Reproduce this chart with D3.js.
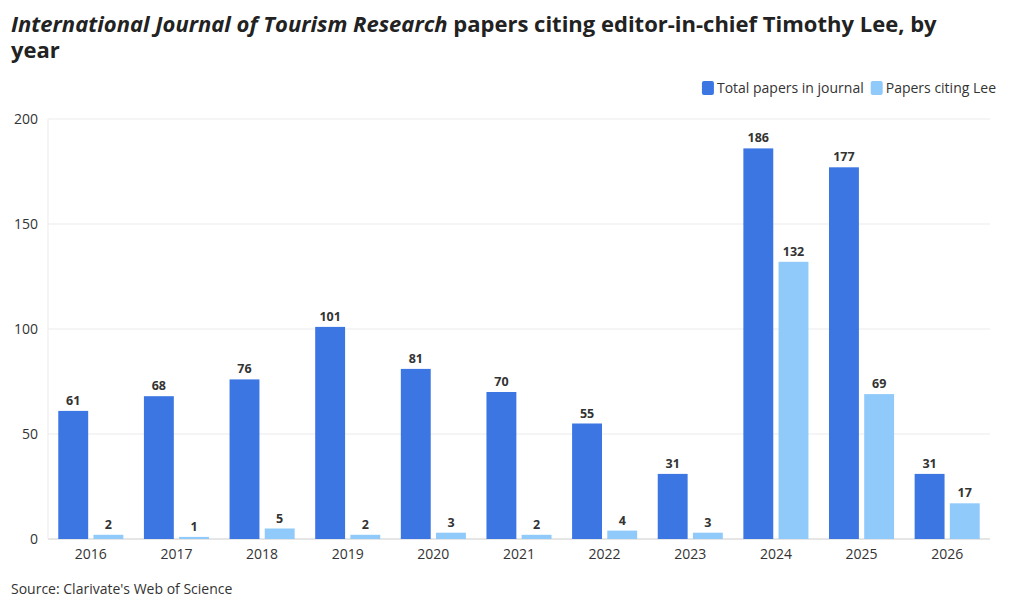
<!DOCTYPE html>
<html><head><meta charset="utf-8">
<script src="https://cdn.jsdelivr.net/npm/d3@7"></script>
<style>body{margin:0;background:#fff;font-family:"Open Sans","Noto Sans",sans-serif;}</style>
</head><body>
<svg width="1020" height="608"></svg>
<script>
const years = ['2016','2017','2018','2019','2020','2021','2022','2023','2024','2025','2026'];
const totalPapers = [61,68,76,101,81,70,55,31,186,177,31];
const citingLee = [2,1,5,2,3,2,4,3,132,69,17];
const seriesNames = ['Total papers in journal','Papers citing Lee'];
const colors = ['#3b76e3','#90cafb'];

const svg = d3.select('svg');
const m = {left:48, right:990, top:119, bottom:539};

let x = d3.scaleBand().domain(years).range([m.left, m.right]).paddingInner(0.24).paddingOuter(0.12);
let x1 = d3.scaleBand().domain([0,1]).range([0, x.bandwidth()]).paddingInner(0.15);
let y = d3.scaleLinear().domain([0,200]).range([m.bottom, m.top]);

// grid
svg.append('g').selectAll('line').data(y.ticks(4)).join('line')
  .attr('x1', m.left).attr('x2', m.right)
  .attr('y1', d => y(d)).attr('y2', d => y(d))
  .attr('stroke', d => d === 0 ? '#ccc' : '#ebebeb');
svg.append('line').attr('x1', m.left).attr('x2', m.left).attr('y1', m.top).attr('y2', m.bottom).attr('stroke','#ebebeb');

svg.append('g').selectAll('text').data(y.ticks(4)).join('text')
  .attr('x', 38).attr('y', d => y(d) + 5).attr('text-anchor','end')
  .attr('font-size', 14).attr('fill','#333').text(d => d);

svg.append('g').selectAll('text').data(years).join('text')
  .attr('x', d => x(d) + x.bandwidth()/2).attr('y', 559).attr('text-anchor','middle')
  .attr('font-size', 14).attr('fill','#333').text(d => d);

[totalPapers, citingLee].forEach((vals, s) => {
  const g = svg.append('g');
  g.selectAll('rect').data(vals).join('rect')
    .attr('x', (d,i) => x(years[i]) + x1(s)).attr('width', x1.bandwidth())
    .attr('y', d => y(d)).attr('height', d => y(0) - y(d))
    .attr('fill', colors[s]);
  g.selectAll('text').data(vals).join('text')
    .attr('x', (d,i) => x(years[i]) + x1(s) + x1.bandwidth()/2)
    .attr('y', d => y(d) - 6).attr('text-anchor','middle')
    .attr('font-size', 12.5).attr('font-weight','bold').attr('fill','#333').text(d => d);
});

// title
const t = svg.append('text').attr('x', 11).attr('y', 32).attr('font-size', 22).attr('font-weight','bold').attr('fill','#222');
t.append('tspan').attr('font-style','italic').text('International Journal of Tourism Research');
t.append('tspan').text(' papers citing editor-in-chief Timothy Lee, by');
svg.append('text').attr('x', 11).attr('y', 58).attr('font-size', 22).attr('font-weight','bold').attr('fill','#222').text('year');

// legend
const leg = svg.append('g');
const lt2 = leg.append('text').attr('x', 996).attr('y', 93).attr('text-anchor','end').attr('font-size', 14).attr('fill','#333').text(seriesNames[1]);
const w2 = lt2.node().getComputedTextLength();
leg.append('rect').attr('x', 996 - w2 - 15).attr('y', 81).attr('width', 12).attr('height', 14).attr('rx', 2).attr('fill', colors[1]);
const x2 = 996 - w2 - 22;
const lt1 = leg.append('text').attr('x', x2).attr('y', 93).attr('text-anchor','end').attr('font-size', 14).attr('fill','#333').text(seriesNames[0]);
const w1 = lt1.node().getComputedTextLength();
leg.append('rect').attr('x', x2 - w1 - 15).attr('y', 81).attr('width', 12).attr('height', 14).attr('rx', 2).attr('fill', colors[0]);

svg.append('text').attr('x', 11).attr('y', 594).attr('font-size', 14).attr('fill','#333').text("Source: Clarivate's Web of Science");
</script>
</body></html>
